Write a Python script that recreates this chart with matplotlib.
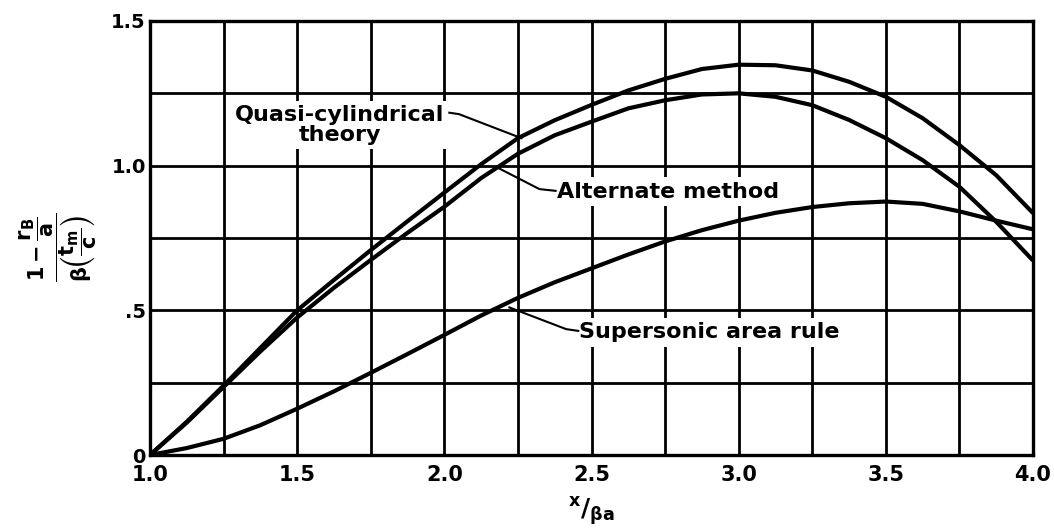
import numpy as np
import matplotlib
matplotlib.use('Agg')
import matplotlib.pyplot as plt

# x/(beta a) stations
x_vals = [1.0, 1.125, 1.25, 1.375, 1.5, 1.625, 1.75, 1.875, 2.0, 2.125, 2.25, 2.375, 2.5,
          2.625, 2.75, 2.875, 3.0, 3.125, 3.25, 3.375, 3.5, 3.625, 3.75, 3.875, 4.0]

quasi_cyl = [0.0, 0.115, 0.24, 0.37, 0.50, 0.605, 0.708, 0.808, 0.907, 1.005, 1.095, 1.157,
             1.21, 1.26, 1.30, 1.334, 1.349, 1.347, 1.329, 1.29, 1.238, 1.164, 1.071, 0.967, 0.836]
alternate = [0.0, 0.112, 0.235, 0.358, 0.475, 0.578, 0.674, 0.768, 0.858, 0.957, 1.041, 1.105,
             1.152, 1.198, 1.226, 1.246, 1.25, 1.238, 1.209, 1.158, 1.095, 1.019, 0.927, 0.806, 0.672]
area_rule = [0.0, 0.024, 0.056, 0.103, 0.16, 0.22, 0.284, 0.349, 0.415, 0.482, 0.543, 0.597,
             0.645, 0.693, 0.738, 0.777, 0.81, 0.837, 0.857, 0.87, 0.876, 0.868, 0.842, 0.81, 0.78]

x_ticks = [1.0, 1.25, 1.5, 1.75, 2.0, 2.25, 2.5, 2.75, 3.0, 3.25, 3.5, 3.75, 4.0]
x_tick_labels = ['1.0', '', '1.5', '', '2.0', '', '2.5', '', '3.0', '', '3.5', '', '4.0']
y_ticks = [0, 0.25, 0.5, 0.75, 1.0, 1.25, 1.5]
y_tick_labels = ['0', '', '.5', '', '1.0', '', '1.5']

plt.rcParams['font.family'] = ['DejaVu Sans']
plt.rcParams['font.weight'] = 'bold'
plt.rcParams['mathtext.fontset'] = 'dejavusans'
plt.rcParams['mathtext.default'] = 'bf'

fig = plt.figure(figsize=(10.54, 5.30), dpi=100)
ax = fig.add_axes([0.1423, 0.1415, 0.8378, 0.8189])

for y in (quasi_cyl, alternate, area_rule):
    ax.plot(x_vals, y, color='black', linewidth=3.0, solid_capstyle='butt', zorder=4)

ax.set_xlim(1.0, 4.0)
ax.set_ylim(0, 1.5)
ax.set_xticks(x_ticks)
ax.set_xticklabels(x_tick_labels, fontsize=15, fontweight='bold')
ax.set_yticks(y_ticks)
ax.set_yticklabels(y_tick_labels, fontsize=14, fontweight='bold')
ax.tick_params(axis='both', length=0)
ax.tick_params(axis='x', pad=7)
ax.tick_params(axis='y', pad=3)
ax.grid(True, color='black', linewidth=2.0)
ax.set_axisbelow(True)
for s in ax.spines.values():
    s.set_linewidth(2.4)

box = dict(facecolor='white', edgecolor='none', pad=3)
txt = dict(fontsize=16, fontweight='bold', zorder=3, bbox=box)

ax.text(1.645, 1.14, 'Quasi-cylindrical\ntheory', ha='center', va='center',
        linespacing=1.0, **txt)
ax.plot([2.017, 2.05, 2.262], [1.183, 1.178, 1.095], color='black', lw=1.5, zorder=5)

ax.text(2.382, 0.91, 'Alternate method', ha='left', va='center', **txt)
ax.plot([2.187, 2.323, 2.378], [0.99, 0.919, 0.913], color='black', lw=1.5, zorder=5)

ax.text(2.458, 0.424, 'Supersonic area rule', ha='left', va='center', **txt)
ax.plot([2.221, 2.414, 2.455], [0.51, 0.435, 0.429], color='black', lw=1.5, zorder=5)

fig.text(58 / 1054, 1 - 247 / 530,
         r'$\dfrac{1-\dfrac{r_B}{a}}{\beta\left(\dfrac{t_m}{c}\right)}$',
         rotation=90, ha='center', va='center', fontsize=15)
fig.text(591 / 1054, 1 - 512 / 530, r'${}^{x}/{}_{\beta a}$',
         ha='center', va='center', fontsize=18)

fig.savefig('out.png', dpi=100)
